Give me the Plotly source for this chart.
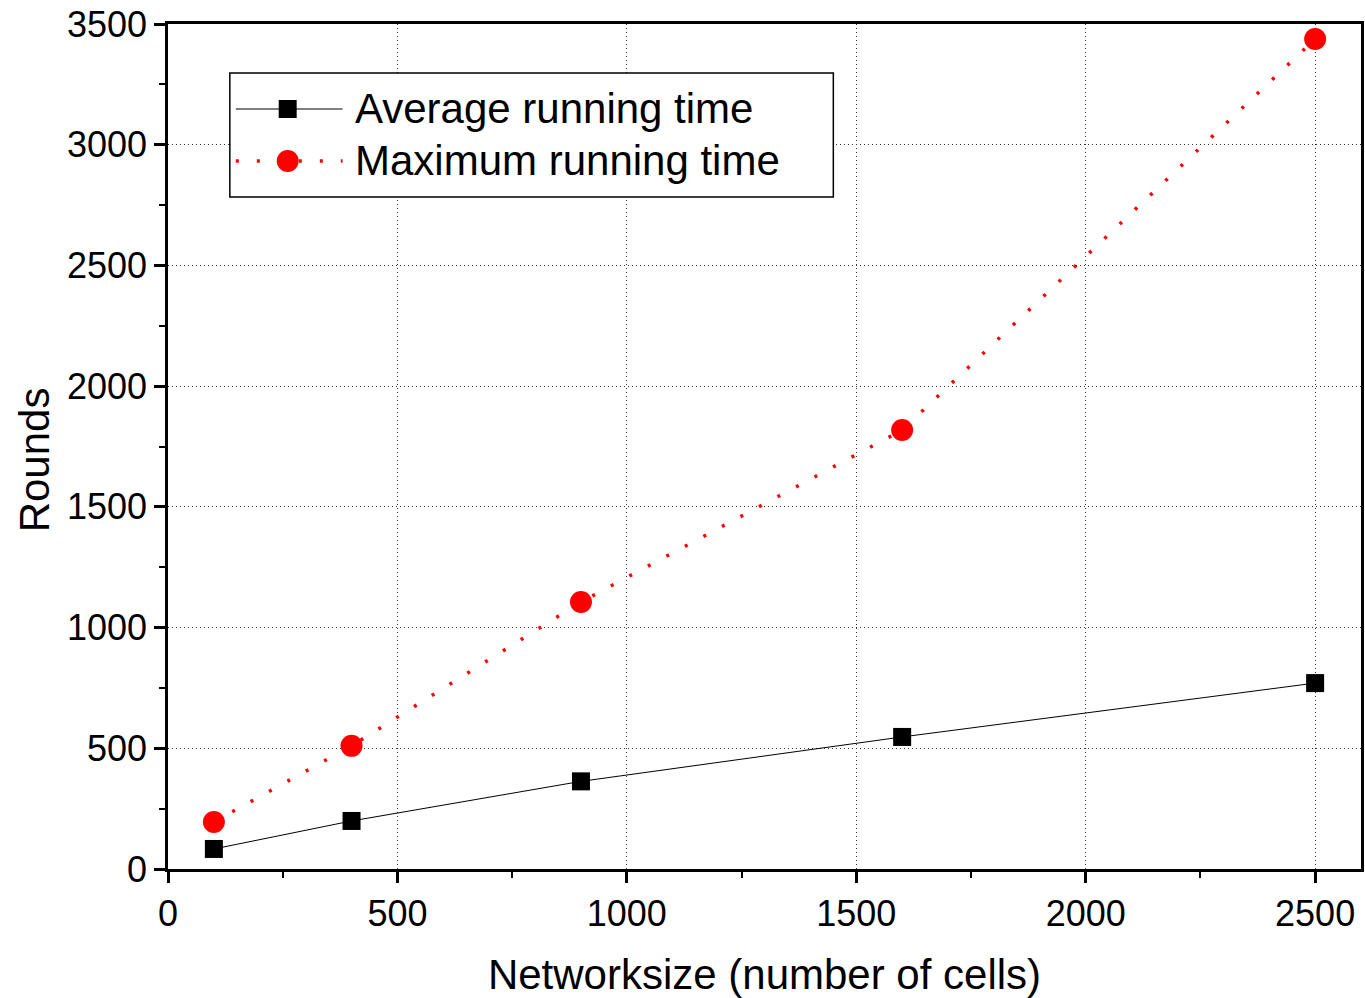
import plotly.graph_objects as go

network_size = [100, 400, 900, 1600, 2500]
avg_time = [83, 199, 363, 547, 770]
max_time = [195, 510, 1106, 1818, 3438]
series_names = ["Average running time", "Maximum running time"]

FONT = "Liberation Sans, Arial, sans-serif"

fig = go.Figure()
fig.add_trace(go.Scatter(
    x=network_size, y=max_time, mode="lines+markers", name=series_names[1],
    line=dict(color="#ff0000", width=3.5, dash="3px,18px"),
    marker=dict(symbol="circle", size=22, color="#ff0000"),
    showlegend=False))
fig.add_trace(go.Scatter(
    x=network_size, y=avg_time, mode="lines+markers", name=series_names[0],
    line=dict(color="black", width=1),
    marker=dict(symbol="square", size=18, color="black"),
    showlegend=False))

axis_common = dict(
    showline=True, linecolor="black", linewidth=2.5, mirror=True,
    ticks="outside", ticklen=11, tickwidth=2.5, tickcolor="black",
    showgrid=True, gridcolor="#333", griddash="1px,3px", gridwidth=1,
    zeroline=False,
    tickfont=dict(family=FONT, size=36, color="black"),
)

W, H = 1365, 998
ml, mr, mt, mb = 168, 1, 24, 129
pw, ph = W - ml - mr, H - mt - mb

def px(x):
    return (x - ml) / pw

def py(y):
    return (H - mb - y) / ph

fig.update_xaxes(range=[0, 2600], dtick=500, tick0=0,
                 minor=dict(dtick=250, tick0=0, ticks="outside", ticklen=6, tickwidth=2,
                            tickcolor="black", showgrid=False),
                 title=dict(text="Networksize (number of cells)",
                            font=dict(family=FONT, size=42, color="black"), standoff=30),
                 **axis_common)
fig.update_yaxes(range=[0, 3500], dtick=500, tick0=0,
                 minor=dict(dtick=250, tick0=0, ticks="outside", ticklen=6, tickwidth=2,
                            tickcolor="black", showgrid=False),
                 **axis_common)

# Manual legend (paper coordinates)
L, R, T, B = 230, 835, 73, 197
shapes = [dict(type="rect", xref="paper", yref="paper", x0=px(L), x1=px(R), y0=py(B), y1=py(T),
               line=dict(color="black", width=1.5), fillcolor="white", layer="above")]
yA = 109
shapes.append(dict(type="line", xref="paper", yref="paper", x0=px(236), x1=px(343), y0=py(yA), y1=py(yA),
                   line=dict(color="black", width=1), layer="above"))
shapes.append(dict(type="rect", xref="paper", yref="paper", x0=px(279), x1=px(297), y0=py(yA + 9), y1=py(yA - 9),
                   line=dict(color="black", width=0), fillcolor="black", layer="above"))
yM = 161
shapes.append(dict(type="line", xref="paper", yref="paper", x0=px(236), x1=px(343), y0=py(yM), y1=py(yM),
                   line=dict(color="#ff0000", width=3.5, dash="3px,18px"), layer="above"))
shapes.append(dict(type="circle", xref="paper", yref="paper", x0=px(277), x1=px(299), y0=py(yM + 11), y1=py(yM - 11),
                   line=dict(color="#ff0000", width=0), fillcolor="#ff0000", layer="above"))

annotations = [
    dict(text=series_names[0], xref="paper", yref="paper", x=px(353), y=py(yA), xanchor="left",
         yanchor="middle", showarrow=False, font=dict(family=FONT, size=42, color="black")),
    dict(text=series_names[1], xref="paper", yref="paper", x=px(353), y=py(yM), xanchor="left",
         yanchor="middle", showarrow=False, font=dict(family=FONT, size=42, color="black")),
    dict(text="Rounds", xref="paper", yref="paper", x=px(35), y=py(460), xanchor="center",
         yanchor="middle", textangle=-90, showarrow=False,
         font=dict(family=FONT, size=42, color="black")),
]

fig.update_layout(
    width=W, height=H,
    margin=dict(l=ml, r=mr, t=mt, b=mb),
    paper_bgcolor="white", plot_bgcolor="white",
    shapes=shapes, annotations=annotations,
    showlegend=False,
)

fig.write_html("out.html")
